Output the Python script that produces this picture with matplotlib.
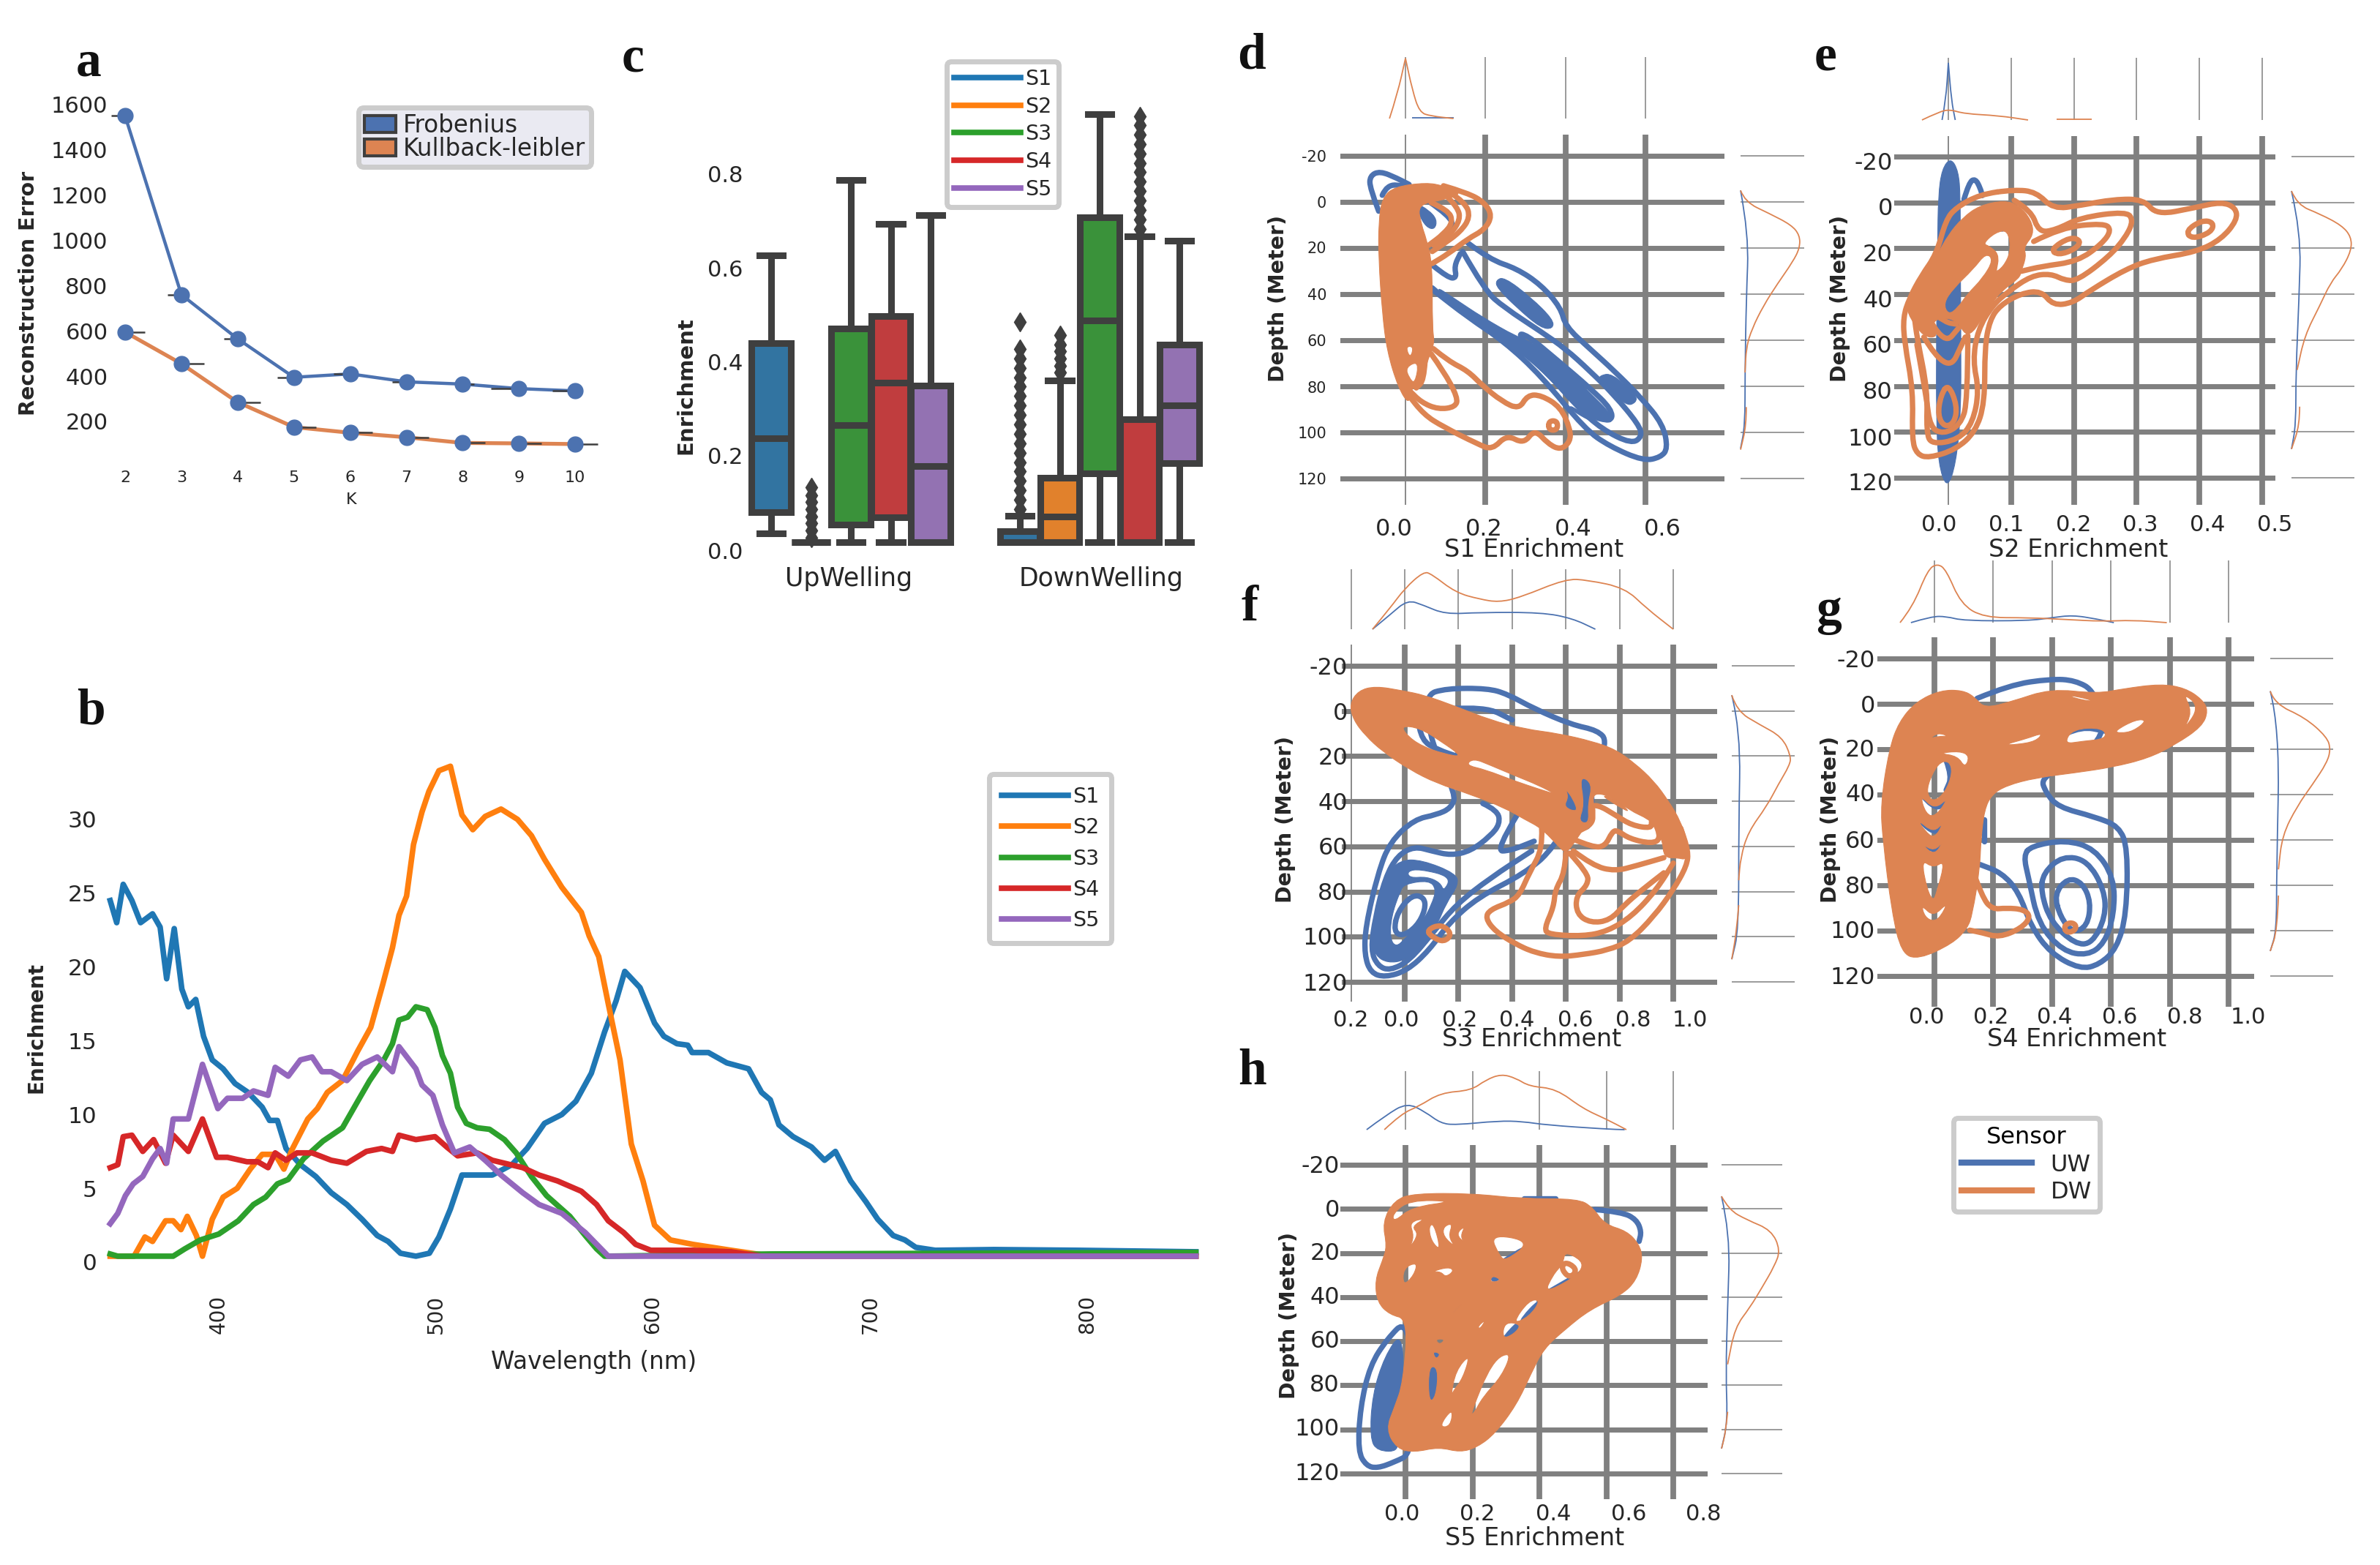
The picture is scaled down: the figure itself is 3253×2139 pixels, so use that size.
import numpy as np
import matplotlib
matplotlib.use("Agg")
import matplotlib.pyplot as plt
from matplotlib.path import Path
from matplotlib.patches import PathPatch, Patch
from matplotlib.lines import Line2D

W, H = 3253, 2139
NAN = float("nan")

UW = "#4c72b0"
DW = "#dd8452"
GRID = "#808080"
TAB = ["#1f77b4", "#ff7f0e", "#2ca02c", "#d62728", "#9467bd"]
BOX = ["#3274a1", "#e1812c", "#3a923a", "#c03d3e", "#9372b2"]
DARK = "#3f3f3f"

# ---------- panel a ----------
K = [2, 3, 4, 5, 6, 7, 8, 9, 10]
frobenius = [1550, 760, 565, 395, 410, 375, 365, 345, 335]
kullback = [595, 455, 285, 175, 150, 130, 105, 103, 100]
frob_err_left = [0.25, 0.25, 0.25, 0.3, 0.3, 0.25, 0.1, 0.5, 0.4]
frob_err_right = [0, 0, 0, 0, 0, 0, 0.2, 0, 0]
kull_err_right = [0.35, 0.4, 0.4, 0.4, 0.4, 0.4, 0.4, 0.4, 0.4]

# ---------- panel b ----------
s1_nm = [350, 353, 356, 360, 364, 369.5, 373, 376, 379.5, 383, 386, 389.4, 393, 397, 402, 407.5, 413.5, 420,
         423.4, 427, 431, 437.6, 444.7, 451.8, 459, 466, 473, 478, 483.7, 490.8, 497, 501.4, 506.7, 512, 517,
         526, 535, 542, 550, 558, 564.5, 571.6, 577.7, 583, 587, 594, 600.7, 605, 611, 616, 618, 625.5, 634,
         644, 650, 654, 658, 664.5, 673, 679, 684, 691, 698, 703.5, 710.6, 716, 721, 730, 757, 796, 850]
s1_val = [24.5, 23, 25.6, 24.5, 23, 23.6, 22.7, 19.2, 22.6, 18.5, 17.3, 17.8, 15.3, 13.7, 13.1, 12.1, 11.5, 10.5,
          9.6, 9.6, 7.7, 6.6, 5.8, 4.7, 3.9, 2.9, 1.8, 1.4, 0.6, 0.4, 0.6, 1.7, 3.6, 5.9, 5.9,
          5.9, 6.6, 7.7, 9.4, 10, 10.9, 12.8, 15.6, 17.7, 19.7, 18.6, 16.2, 15.3, 14.8, 14.7, 14.2, 14.2, 13.5,
          13.1, 11.5, 11, 9.3, 8.5, 7.8, 6.9, 7.5, 5.5, 4.1, 2.9, 1.8, 1.5, 1.0, 0.8, 0.85, 0.8, 0.7]
s2_nm = [350, 361, 366, 369.5, 375.5, 379, 382.6, 385.5, 389.7, 392.5, 397, 402, 408.5, 414.5, 420, 426, 430, 434,
         441, 445.4, 450, 457, 464, 470, 475.5, 480, 483, 486.5, 489.7, 493.6, 496.8, 501.4, 506.7, 512, 517,
         522.7, 530, 537.6, 544, 550, 558, 567, 570.6, 575, 579.4, 584.8, 590, 595.4, 600.7, 608, 618.4, 636,
         650, 850]
s2_val = [0.4, 0.4, 1.7, 1.4, 2.8, 2.8, 2.2, 3.1, 1.8, 0.4, 2.9, 4.4, 5, 6.3, 7.3, 7.3, 6.3, 7.7,
          9.7, 10.4, 11.5, 12.3, 14.3, 15.9, 18.8, 21.3, 23.5, 24.8, 28.3, 30.5, 31.9, 33.3, 33.6, 30.3, 29.3,
          30.2, 30.7, 30, 28.9, 27.3, 25.4, 23.7, 22.1, 20.7, 17.5, 13.7, 8, 5.5, 2.5, 1.5, 1.2, 0.8,
          0.5, 0.4]
s3_nm = [350, 353.5, 379, 384.4, 391.5, 400, 409, 416, 421.6, 427, 432, 439, 448, 457, 464, 469.5, 476, 480, 483,
         487, 490.8, 496, 499.6, 503, 506.7, 510, 514, 519, 524.7, 531.6, 537, 544, 551, 561.7, 568.8, 574, 577.7,
         654, 850]
s3_val = [0.55, 0.4, 0.4, 0.9, 1.5, 1.9, 2.8, 3.9, 4.4, 5.3, 5.6, 7, 8.2, 9.1, 10.9, 12.3, 13.7, 14.8, 16.4,
          16.6, 17.3, 17.1, 15.9, 14, 12.8, 10.5, 9.4, 9.1, 9, 8.3, 7.4, 5.8, 4.5, 3.1, 1.8, 0.9, 0.4,
          0.55, 0.66]
s4_nm = [350, 353.5, 356, 360, 365, 370, 375.5, 379, 386, 392.5, 399, 404, 413, 418, 422.7, 426, 431, 436, 443,
         451.8, 459, 468, 475, 480, 483, 490.8, 499.6, 505, 510, 519, 526, 540, 547.5, 556, 567, 574, 579.4,
         586.5, 592, 599, 618.4, 636, 650, 850]
s4_val = [6.4, 6.6, 8.5, 8.6, 7.5, 8.3, 6.7, 8.6, 7.5, 9.7, 7.1, 7.1, 6.8, 6.8, 6.4, 7.4, 6.9, 7.4, 7.4,
          6.9, 6.7, 7.5, 7.7, 7.5, 8.6, 8.3, 8.5, 7.8, 7.2, 7.4, 6.9, 6.4, 5.9, 5.5, 4.8, 3.9, 2.8,
          2, 1.2, 0.8, 0.8, 0.7, 0.4, 0.4]
s5_nm = [350, 353.5, 357, 360.6, 365, 369.5, 373, 376, 379, 386, 392.5, 399.6, 404, 411, 416, 422.7, 426, 432,
         437.6, 443, 447.5, 451.8, 459, 466, 473, 480, 483, 490.8, 493.6, 498.6, 503, 508.5, 515.6, 522.7, 530,
         540, 547.5, 558, 568.8, 579.4, 850]
s5_val = [2.6, 3.3, 4.5, 5.3, 5.8, 7, 7.7, 6.7, 9.7, 9.7, 13.4, 10.4, 11.1, 11.1, 11.6, 11.3, 13.2, 12.6,
          13.7, 13.9, 12.9, 12.9, 12.3, 13.4, 13.9, 12.9, 14.6, 13.1, 12, 11.3, 9.3, 7.4, 7.8, 6.9, 5.9,
          4.7, 3.9, 3.3, 2, 0.4, 0.4]

# ---------- panel c ----------
sensors = ["S1", "S2", "S3", "S4", "S5"]
groups = ["UpWelling", "DownWelling"]
up_lo = [0.018, 0.0, 0.0, 0.0, 0.0]
up_q1 = [0.063, 0.0, 0.038, 0.053, 0.0]
up_med = [0.22, 0.0, 0.248, 0.339, 0.162]
up_q3 = [0.423, 0.0, 0.453, 0.48, 0.333]
up_hi = [0.608, 0.0, 0.768, 0.675, 0.694]
down_lo = [0.0, 0.0, 0.0, 0.0, 0.0]
down_q1 = [0.0, 0.0, 0.146, 0.0, 0.167]
down_med = [0.0, 0.055, 0.47, 0.0, 0.291]
down_q3 = [0.024, 0.137, 0.69, 0.261, 0.419]
down_hi = [0.056, 0.343, 0.909, 0.649, 0.64]
up_fliers = [[], [0.01, 0.025, 0.04, 0.055, 0.07, 0.085, 0.1, 0.116], [], [], []]
down_fliers = [[0.07, 0.09, 0.11, 0.13, 0.15, 0.17, 0.19, 0.21, 0.23, 0.25, 0.27, 0.29, 0.31, 0.33, 0.35, 0.37,
                0.39, 0.41, 0.468],
               [0.36, 0.375, 0.39, 0.405, 0.42, 0.44], [],
               [0.665, 0.685, 0.705, 0.725, 0.745, 0.765, 0.785, 0.805, 0.825, 0.845, 0.865, 0.885, 0.903], []]

# ---------- joint panels: traced contours as (enrichment, depth) ----------
# closed outlines, open pieces that end under the solid part, and solid parts with their gaps
d_uw = [
    [(0.278, 57.4), (0.302, 57.4), (0.382, 69), (0.461, 80.7), (0.516, 90), (0.516, 95.5), (0.46, 92), (0.38, 78)],
]
d_uw_open = [
    [(-0.067, 4), (-0.089, -6), (-0.089, -11.3), (-0.064, -13.4), (-0.021, -10.3), (0.009, -7.6)],
    [(-0.058, -2.9), (-0.046, -7.6), (-0.003, -7)],
    [(0.156, 17.8), (0.211, 25), (0.278, 28.9), (0.339, 36), (0.388, 45.8), (0.4, 54), (0.461, 63.7), (0.522, 73.3),
     (0.589, 84.9), (0.644, 96.5), (0.656, 107), (0.638, 110.8), (0.595, 112.4), (0.51, 106), (0.449, 98.6),
     (0.339, 75.4), (0.247, 60.6), (0.156, 50), (0.07, 38.4)],
    [(0.143, 21.5), (0.198, 38.4), (0.247, 45.8), (0.339, 56.3), (0.4, 63.7), (0.461, 73.3), (0.522, 83.8),
     (0.583, 96.5), (0.592, 101.8), (0.565, 105), (0.491, 98.6), (0.43, 89), (0.351, 73.3), (0.278, 62.7),
     (0.192, 54.2), (0.095, 41.5), (0.067, 37.3)],
    [(0.06, 0), (0.11, 6), (0.12, 11), (0.1, 15), (0.07, 19)],
    [(0.07, 27.8), (0.107, 33), (0.128, 33), (0.122, 27.8), (0.137, 22.5)],
]
d_uw_solid = [
    ([(0.07, 36), (0.131, 47.9), (0.217, 56.3), (0.314, 69), (0.388, 81.7), (0.449, 93.3), (0.516, 96.5), (0.516, 92.3),
      (0.461, 82.8), (0.375, 68), (0.314, 60.6), (0.278, 58.5), (0.192, 50), (0.119, 41.5)],
     [[(0.412, 88), (0.479, 96), (0.461, 95), (0.412, 90)]]),
    ([(0.226, 34), (0.247, 32.6), (0.314, 41.5), (0.369, 51), (0.369, 55), (0.339, 54.8), (0.278, 45.8), (0.229, 37.3)], []),
    ([(0.485, 75.4), (0.516, 74.3), (0.577, 83.8), (0.577, 87), (0.552, 88.6), (0.485, 77.5)], []),
    ([(0.024, 0.3), (0.058, 3.5), (0.079, 7.7), (0.073, 12), (0.052, 10.9), (0.034, 5.6)], []),
]
d_dw = [
    [(0.358, 95), (0.38, 95), (0.38, 99), (0.358, 99)],
]
d_dw_open = [
    [(0.095, -7), (0.156, -3.9), (0.198, 0.3), (0.217, 6), (0.198, 12), (0.156, 16), (0.107, 22.5), (0.067, 26.7)],
    [(0.113, -3.9), (0.15, 0.3), (0.162, 6.7), (0.137, 13), (0.095, 18.3), (0.067, 21.5)],
    [(0.107, -1.8), (0.131, 2.4), (0.137, 7.7), (0.113, 14), (0.07, 18.8)],
    [(0.064, 0.3), (0.107, 3.5), (0.119, 8.8), (0.095, 14), (0.058, 18.8)],
    [(0.07, 63.7), (0.107, 69), (0.156, 73.3), (0.192, 79.6), (0.241, 86.5), (0.284, 90), (0.305, 83.8), (0.339, 83.8),
     (0.388, 89), (0.412, 98.6), (0.412, 104), (0.388, 107.6), (0.357, 105), (0.323, 98.6), (0.296, 105), (0.253, 101),
     (0.217, 107.6), (0.18, 105), (0.095, 97.6), (0.046, 92.3), (0.003, 82.8)],
    [(0.064, 65.9), (0.095, 73.3), (0.131, 84.9), (0.125, 89), (0.082, 90), (0.04, 87), (0.009, 81.7)],
    [(0.049, 69), (0.046, 77.5), (0.027, 80.7)],
]
d_dw_solid = [
    ([(-0.067, 8.8), (-0.058, -1.8), (-0.027, -6.6), (0.052, -8.4), (0.095, -7), (0.143, -3.9), (0.1, -1), (0.03, 1),
      (0.04, 10), (0.052, 16), (0.067, 26.7), (0.067, 55), (0.073, 61.6), (0.052, 70), (0.04, 79.6), (0.012, 81),
      (0.009, 88), (-0.018, 80.6), (-0.046, 64.8), (-0.058, 47.9), (-0.067, 24.6)],
     [[(0, 62.7), (0.021, 62.7), (0.012, 68)], [(0, 71.7), (0.034, 69), (0.024, 79), (0.009, 76.4)]]),
]

e_uw = []
e_uw_open = [
    [(0.025, -1.4), (0.033, -8.8), (0.043, -10.4), (0.051, -6.2), (0.054, -3)],
]
e_uw_solid = [
    ([(0.004, -19.5), (0.016, -13.6), (0.019, -3), (0.019, 20), (0.02, 60), (0.02, 92), (0.012, 114), (-0.002, 125),
      (-0.016, 114), (-0.019, 92.8), (-0.019, 61), (-0.017, 18.3), (-0.016, -3), (-0.01, -14.7)], []),
    ([(0.078, 8.7), (0.093, 7.7), (0.093, 11.9), (0.082, 13)], []),
]
e_dw = [
    [(0.105, -5.6), (0.14, -4.6), (0.167, 2.9), (0.21, 1.3), (0.264, -1.4), (0.311, -1.4), (0.332, 5.5), (0.392, 2.3),
     (0.435, -0.3), (0.458, 2.3), (0.46, 7.7), (0.435, 16), (0.396, 21.5), (0.326, 24.7), (0.283, 29), (0.225, 38.5),
     (0.198, 43.8), (0.167, 44.9), (0.148, 38.5), (0.116, 39.6), (0.082, 44.9), (0.066, 51.3), (0.058, 63), (0.058, 87.4),
     (0.043, 100), (0.012, 107.7), (-0.031, 111.4), (-0.05, 109.8), (-0.058, 103.4), (-0.056, 82), (-0.07, 60.9),
     (-0.072, 50), (-0.062, 41.7), (-0.043, 32), (-0.019, 22.6), (-0.004, 7.7), (0.012, 2.3), (0.05, -3.5)],
    [(0.163, 20.4), (0.194, 15), (0.212, 16.7), (0.202, 20.4), (0.175, 23)],
    [(0.378, 12.4), (0.404, 7.7), (0.423, 8.7), (0.419, 13), (0.388, 16)],
    [(0, 79), (0.014, 88.5), (0.01, 96), (-0.006, 98), (-0.017, 92.8), (-0.012, 84)],
]
e_dw_open = [
    [(0.105, -0.9), (0.132, 3.4), (0.144, 13), (0.171, 12), (0.21, 6.6), (0.283, 3.9), (0.295, 7.7), (0.283, 15),
     (0.256, 23.6), (0.206, 34), (0.186, 34), (0.163, 31), (0.132, 32), (0.097, 38.5), (0.07, 44.9), (0.047, 55.5),
     (0.039, 69), (0.049, 82), (0.039, 96), (0.016, 103.4), (-0.027, 105.5), (-0.035, 100), (-0.033, 82), (-0.05, 58.7),
     (-0.054, 50)],
    [(0.136, 17), (0.179, 10.9), (0.248, 9), (0.26, 12), (0.245, 18), (0.206, 25.7), (0.148, 27.9), (0.116, 30)],
    [(0.031, 58), (0.031, 87), (0.019, 97), (-0.008, 101), (-0.029, 98), (-0.035, 85), (-0.05, 62)],
    [(-0.039, 58.7), (-0.002, 75.7), (0.027, 58.7)],
    [(-0.027, 52.3), (-0.006, 62), (0.017, 54.5)],
    [(-0.02, 49), (-0.004, 52.3), (0.012, 53)],
    [(0.105, 12), (0.113, 23.6), (0.097, 30)],
    [(0.066, 21), (0.078, 22), (0.072, 31)],
]
e_dw_solid = [
    ([(-0.066, 45), (-0.047, 33), (-0.019, 23.6), (0, 14), (0.023, 6.6), (0.05, 1.3), (0.089, -0.9), (0.113, 1.3),
      (0.132, 7.7), (0.136, 14), (0.12, 19.4), (0.124, 23.6), (0.116, 30), (0.113, 33), (0.085, 38.5), (0.07, 43.8),
      (0.05, 52), (0.039, 56.6), (0.027, 57.7), (0.016, 52.3), (-0.004, 50), (-0.027, 51.8), (-0.016, 58.7),
      (-0.039, 58.7), (-0.062, 50)],
     [[(-0.008, 44), (0.008, 37.4), (0.04, 29), (0.06, 22), (0.072, 25), (0.055, 33), (0.03, 40), (0.015, 46), (0, 49)],
      [(0.055, 18), (0.075, 13), (0.095, 12), (0.1, 21), (0.088, 28), (0.072, 31), (0.078, 22), (0.065, 19)]]),
]

f_uw = [
    [(0.073, -7), (0.155, -10), (0.309, -10), (0.382, -7.5), (0.482, -1), (0.619, 6), (0.719, 8.6), (0.755, 13.5),
     (0.7, 31), (0.555, 61), (0.446, 72), (0.273, 82.5), (0.164, 94), (0.091, 106), (0.009, 115), (-0.073, 118),
     (-0.127, 116), (-0.15, 108), (-0.146, 95.5), (-0.1, 72), (-0.055, 58), (0.036, 48), (0.118, 46), (0.173, 43),
     (0.191, 37), (0.1, 15)],
    [(-0.027, 89), (0.027, 81.4), (0.073, 82.5), (0.077, 88), (0.045, 95.5), (-0.009, 99.8), (-0.041, 97.6)],
]
f_uw_open = [
    [(0.291, 41), (0.346, 44), (0.355, 50), (0.318, 55.5), (0.246, 62), (0.173, 64), (0.1, 62), (0.036, 60), (-0.027, 64),
     (-0.073, 74), (-0.109, 91), (-0.127, 106), (-0.1, 113), (-0.055, 115), (0.018, 110.6), (0.109, 97.6), (0.191, 85.8),
     (0.318, 74), (0.473, 62)],
    [(0.419, 46), (0.337, 62), (0.391, 62), (0.482, 57.7)],
    [(0.055, 7.5), (0.064, 13), (0.118, 17), (0.218, 21)],
    [(0.17, -1), (0.3, -2), (0.4, 4)],
]
f_uw_solid = [
    ([(-0.073, 73), (-0.018, 66), (0.064, 66), (0.191, 72), (0.2, 77), (0.155, 85), (0.118, 95.5), (0.064, 104), (0, 110.6),
      (-0.064, 111.6), (-0.109, 108.4), (-0.127, 101), (-0.1, 84.7)],
     [[(0.009, 71), (0.055, 70), (0.173, 73.4), (0.146, 80), (0.132, 76), (0.082, 73.4), (0.018, 74)],
      [(0, 76.6), (0.091, 75), (0.118, 79), (0.1, 85.8), (0.068, 93), (0, 101), (-0.032, 104.6), (-0.055, 101),
       (-0.05, 91), (-0.018, 80)]]),
    ([(0.58, 30), (0.7, 27), (0.71, 50), (0.66, 54), (0.6, 45)], []),
]
f_dw = [
    [(0.082, 97), (0.136, 94.4), (0.177, 98.7), (0.146, 102.5), (0.1, 100)],
]
f_dw_open = [
    [(0.7, 42), (0.719, 41.5), (0.783, 46), (0.846, 50.7), (0.919, 52), (0.919, 49)],
    [(0.641, 53.4), (0.7, 51), (0.7, 43.7)],
    [(0.632, 57), (0.7, 60.4), (0.746, 60), (0.773, 53.4), (0.792, 52.9), (0.837, 56.6), (0.919, 58.8), (0.955, 56.6),
     (0.928, 48)],
    [(0.628, 62), (0.7, 68.5), (0.783, 71), (0.864, 68.5), (0.965, 65)],
    [(0.614, 63), (0.682, 71.7), (0.682, 77), (0.637, 82), (0.641, 90), (0.692, 93.9), (0.764, 92.8), (0.819, 85.8),
     (0.883, 79.3), (0.965, 71.7)],
    [(0.6, 63), (0.596, 71.7), (0.56, 79.3), (0.555, 86.8), (0.519, 96.5), (0.537, 99), (0.664, 99.8), (0.755, 97.6),
     (0.846, 91), (0.937, 79.3), (1.0, 67.4)],
    [(0.51, 52), (0.514, 61), (0.464, 71.7), (0.428, 81.4), (0.391, 84.7), (0.318, 88), (0.3, 91.7), (0.337, 97.6),
     (0.409, 103), (0.482, 107), (0.573, 109), (0.664, 107.9), (0.755, 106), (0.837, 102), (0.928, 91), (1.0, 79.3),
     (1.051, 68.5), (1.056, 62), (1.028, 52)],
]
f_dw_solid = [
    ([(-0.205, -3), (-0.173, -9), (-0.109, -11), (-0.009, -9), (0.073, -7), (0.191, -2), (0.318, 4), (0.446, 8), (0.573, 10),
      (0.7, 13.5), (0.783, 17), (0.855, 23), (0.928, 31), (0.983, 40), (1.028, 49), (1.056, 59), (1.051, 66), (1.015, 65),
      (0.965, 65), (0.96, 57), (0.928, 51), (0.91, 48), (0.837, 44), (0.773, 38), (0.7, 36), (0.705, 43), (0.682, 50),
      (0.655, 54), (0.628, 59), (0.6, 63), (0.573, 60), (0.51, 52), (0.446, 48), (0.373, 43), (0.246, 37), (0.118, 32),
      (0.018, 26), (-0.082, 18), (-0.146, 11), (-0.191, 4)],
     [[(-0.014, 6.5), (0.055, 7.5), (0.136, 13.5), (0.218, 20.5), (0.146, 19), (0.064, 15.6), (0.009, 11)],
      [(0.255, 21), (0.318, 24), (0.409, 28.6), (0.5, 33), (0.564, 37), (0.51, 35), (0.409, 31), (0.3, 26), (0.227, 24)],
      [(0.596, 34), (0.628, 39), (0.646, 45), (0.591, 42.6), (0.61, 38)],
      [(0.65, 28.6), (0.7, 32), (0.682, 41.5), (0.687, 50), (0.646, 49), (0.669, 41.5)],
      [(0.728, 37), (0.783, 39), (0.842, 45), (0.8, 42.6)]]),
]

g_uw = [
    [(0.328, 62.7), (0.445, 60), (0.545, 63.8), (0.611, 76.7), (0.611, 92.8), (0.578, 105.7), (0.52, 111), (0.436, 109),
     (0.353, 97), (0.32, 76.7), (0.303, 67)],
    [(0.37, 74.5), (0.436, 67), (0.52, 69), (0.578, 82), (0.582, 93.9), (0.536, 105.7), (0.478, 106), (0.395, 96), (0.362, 83)],
    [(0.407, 84), (0.453, 76.7), (0.503, 78.8), (0.532, 87.4), (0.52, 98), (0.47, 101), (0.428, 93.9)],
]
g_uw_open = [
    [(0.145, -2.4), (0.254, -8.3), (0.395, -11), (0.478, -10.4), (0.545, -5.6), (0.586, 13), (0.478, 25), (0.362, 32.6),
     (0.378, 39), (0.42, 45.5), (0.545, 49.8), (0.628, 54), (0.657, 63.8), (0.653, 92.8), (0.62, 107.8), (0.561, 115),
     (0.495, 117), (0.395, 110), (0.328, 98), (0.287, 83), (0.229, 74.5), (0.154, 70.8)],
    [(0.17, 50.9), (0.17, 60.5)],
    [(-0.05, 39), (0, 47), (0.04, 43)],
    [(-0.058, 50), (-0.004, 58), (0.03, 53)],
    [(-0.045, 61), (0, 66), (0.03, 60)],
    [(0.04, 25), (0.06, 32), (0.04, 38)],
    [(0.45, 13), (0.5, 10), (0.58, 12)],
]
g_uw_solid = []
g_dw = [
    [(0.44, 98), (0.461, 96.3), (0.482, 97.4), (0.478, 100), (0.449, 101)],
]
g_dw_open = [
    [(0.133, 74.5), (0.162, 85), (0.195, 90.6), (0.245, 90), (0.303, 90.6), (0.328, 93.9), (0.295, 99), (0.22, 103),
     (0.162, 100.9), (0.12, 99.8)],
]
g_dw_solid = [
    ([(-0.183, 44), (-0.154, 20), (-0.121, 8), (-0.062, -1), (0.021, -6), (0.096, -6), (0.137, -3), (0.17, 2), (0.262, -1),
      (0.395, -6.7), (0.553, -4.5), (0.644, -6.7), (0.769, -8.8), (0.852, -7), (0.91, -2), (0.931, 3), (0.91, 10), (0.819, 18),
      (0.727, 24), (0.603, 28), (0.478, 30.4), (0.345, 32.6), (0.245, 36), (0.195, 40), (0.17, 46.6), (0.158, 59.5),
      (0.154, 73), (0.129, 92.8), (0.112, 99), (0.062, 105.7), (-0.054, 112.7), (-0.112, 110), (-0.145, 91.7), (-0.175, 60.5)],
     [[(0.611, 12), (0.686, 6.8), (0.723, 7.3), (0.677, 12), (0.632, 13)],
      [(0.44, 17.7), (0.47, 11), (0.574, 10.5), (0.586, 15.4), (0.503, 16.5)],
      [(0.237, 18), (0.312, 15.4), (0.37, 12.7), (0.345, 16.5), (0.279, 18)],
      [(0.453, -4), (0.528, -2), (0.536, -1), (0.478, -2.4)],
      [(-0.025, 36), (0.012, 26), (0.05, 25), (0.062, 30.4), (0.037, 39), (0, 43), (-0.021, 41)],
      [(-0.05, 40), (0, 46.6), (0.05, 41), (0.004, 49.8), (-0.029, 48.7)],
      [(-0.058, 50.9), (-0.004, 56.8), (0.033, 52), (0, 59.5), (-0.033, 56)],
      [(-0.045, 61.6), (0, 65), (0.033, 60), (0, 67)],
      [(-0.045, 68.6), (-0.004, 72.4), (0.037, 69), (0.008, 83), (-0.004, 87), (-0.025, 82)],
      [(-0.045, 88.5), (-0.004, 93.9), (0.046, 87.4), (0.021, 93.9), (-0.004, 96), (-0.033, 93.9)],
      [(-0.017, 15.4), (0.012, 12.7), (0.05, 14.3), (0.012, 14.3)],
      [(0.012, 21.8), (0.087, 20.8), (0.12, 23), (0.104, 28.3), (0.079, 23)],
      [(0.844, -5), (0.902, 1.4), (0.844, 12), (0.877, 3.5)]]),
]

h_uw = [
    [(0.004, 50), (-0.055, 59), (-0.106, 71), (-0.135, 90), (-0.142, 110), (-0.117, 116.5), (-0.084, 117.6), (-0.033, 114.8),
     (0.018, 111), (0.03, 80)],
]
h_uw_open = [
    [(0.354, -4.6), (0.449, -4.6)],
    [(0.566, 0.3), (0.646, 1.4), (0.69, 4.8), (0.705, 10.3), (0.698, 14.7)],
    [(0.296, 23.6), (0.362, 16.9), (0.42, 15.8), (0.449, 18)],
    [(0.413, 39), (0.551, 26.9)],
]
h_uw_solid = [
    ([(-0.011, 55.6), (-0.062, 66.7), (-0.099, 84.4), (-0.106, 104), (-0.084, 109.8), (-0.018, 110), (-0.033, 101),
      (-0.004, 79)], []),
    ([(0.07, 70), (0.1, 71), (0.093, 86), (0.067, 88)], []),
    ([(0.075, 62), (0.11, 63), (0.095, 70)], []),
    ([(0.28, 60), (0.34, 50), (0.35, 52), (0.3, 62)], []),
    ([(0.33, 52), (0.41, 39), (0.37, 52)], []),
    ([(0.135, 47), (0.2, 38), (0.15, 48)], []),
    ([(0.25, 29), (0.3, 30), (0.26, 34)], []),
]
h_dw = [
    [(0.469, 24.7), (0.491, 24.7), (0.513, 28), (0.491, 31.3), (0.469, 28)],
]
h_dw_open = []
h_dw_solid = [
    ([(-0.069, 6), (-0.033, -4), (0.026, -7), (0.2, -7), (0.347, -4.6), (0.515, -4.6), (0.559, -0.8), (0.595, 7), (0.661, 10),
      (0.698, 16), (0.709, 22.5), (0.69, 32.4), (0.646, 39), (0.551, 45.7), (0.478, 54.5), (0.413, 63.4), (0.376, 74.4),
      (0.332, 88.8), (0.267, 102), (0.215, 108), (0.164, 110.4), (0.099, 108), (0.026, 110.4), (-0.026, 108.7), (-0.058, 99.9),
      (-0.033, 90), (-0.007, 78.9), (0.007, 50), (-0.047, 48), (-0.084, 42.4), (-0.091, 32.4), (-0.069, 23.6), (-0.055, 17)],
     [[(0.252, 11.4), (0.376, 14.7), (0.3, 23.6), (0.281, 21.4)],
      [(0.478, 18.6), (0.551, 26.6), (0.413, 39), (0.44, 30), (0.47, 25)],
      [(-0.007, 26.9), (0.036, 24), (0.026, 30), (-0.007, 35)],
      [(-0.04, 2.5), (0.011, -4), (0.15, -3.5), (0.018, -0.8), (-0.033, 5.9)],
      [(0.011, 5.9), (0.062, 4.2), (0.018, 8), (0.04, 11.4), (0.011, 18), (0.026, 12.5)],
      [(0.069, 8), (0.085, 6.5), (0.106, 19.1), (0.077, 14.7)],
      [(0.113, 8), (0.142, 6.4), (0.128, 12.5), (0.15, 17.5), (0.113, 12.5)],
      [(0.15, 11.4), (0.179, 7.5), (0.164, 12.5), (0.179, 15.8)],
      [(0.077, 28.5), (0.128, 26.3), (0.146, 28), (0.12, 31), (0.106, 28.5)],
      [(0.131, 49), (0.194, 39), (0.142, 46.8)],
      [(0.135, 85.5), (0.15, 73.3), (0.194, 65.6), (0.172, 76.7), (0.142, 82.7)],
      [(0.194, 93), (0.259, 69), (0.318, 64.5), (0.289, 75.6), (0.23, 85.5), (0.204, 93)],
      [(0.099, 98.8), (0.142, 90), (0.135, 98.8)],
      [(0.289, 59), (0.296, 51.2), (0.347, 52.3), (0.325, 56.7)],
      [(0.318, 52.3), (0.369, 49), (0.405, 41.3), (0.369, 41.3)],
      [(0.069, 71), (0.099, 72.2), (0.091, 85.5), (0.069, 87.7)],
      [(0.088, 59), (0.12, 59), (0.102, 61.7)],
      [(0.08, 64.5), (0.106, 65.6), (0.091, 68.4)],
      [(0.259, 30), (0.289, 32.4), (0.252, 33.5)],
      [(0.215, 53.4), (0.241, 50), (0.223, 54.5)]]),
]

# marginal densities (value, share of margin height); NaN splits a curve
d_top_uw = [(0.017, 0.01), (0.12, 0.01)]
d_top_dw = [(-0.04, 0), (-0.02, 0.4), (0, 0.98), (0, 0.98), (0.017, 0.47), (0.035, 0.1), (0.064, 0.04), (0.12, 0)]
d_right_uw = [(-5, 0), (14, 0.13), (42, 0.09), (74, 0.07), (97, 0.07), (107, 0)]
d_right_dw = [(-5, 0), (0, 0.07), (5, 0.45), (10, 0.8), (14.5, 0.93), (20, 0.93), (26, 0.82), (35.5, 0.58), (45, 0.36),
              (55, 0.18), (63, 0.09), (74, 0.07), (NAN, NAN), (89, 0.09), (97, 0.09), (107.5, 0)]
e_top_uw = [(-0.01, 0), (-0.004, 0.31), (0, 0.92), (0, 0.92), (0.005, 0.31), (0.011, 0)]
e_top_dw = [(-0.042, 0), (-0.015, 0.13), (0.002, 0.17), (0.026, 0.1), (0.08, 0.07), (0.127, 0), (NAN, NAN),
            (0.173, 0.01), (0.229, 0.01)]
e_right_uw = [(-5, 0), (13, 0.15), (42, 0.12), (74, 0.07), (97, 0.07), (107.5, 0)]
e_right_dw = [(-5, 0), (1, 0.09), (5, 0.45), (10, 0.8), (15, 0.95), (21, 0.95), (29, 0.8), (35, 0.62), (45, 0.45),
              (58, 0.21), (73, 0.09), (NAN, NAN), (89, 0.13), (97, 0.13), (107.5, 0)]
f_top_uw = [(-0.12, 0), (-0.055, 0.24), (0.01, 0.49), (0.07, 0.4), (0.15, 0.25), (0.28, 0.28), (0.51, 0.28),
            (0.625, 0.18), (0.71, 0)]
f_top_dw = [(-0.12, 0), (-0.055, 0.35), (0, 0.68), (0.07, 0.96), (0.1, 0.92), (0.19, 0.61), (0.28, 0.5), (0.35, 0.45),
            (0.43, 0.53), (0.6, 0.84), (0.68, 0.82), (0.82, 0.69), (0.9, 0.35), (1.0, 0)]
f_right_uw = [(-7, 0), (8.6, 0.14), (51, 0.11), (97, 0.11), (110, 0)]
f_right_dw = [(-7, 0), (0, 0.08), (6, 0.44), (11.5, 0.8), (20, 0.94), (24, 0.92), (32.5, 0.74), (42, 0.56), (53.6, 0.26),
              (65, 0.14), (75, 0.11), (NAN, NAN), (86, 0.11), (97, 0.08), (110, 0)]
g_top_uw = [(-0.08, 0), (-0.01, 0.1), (0.04, 0.1), (0.1, 0.03), (0.32, 0.03), (0.4, 0.08), (0.47, 0.12), (0.55, 0.06),
            (0.61, 0)]
g_top_dw = [(-0.117, 0), (-0.074, 0.25), (-0.023, 0.85), (0.01, 0.95), (0.04, 0.85), (0.09, 0.3), (0.168, 0.08),
            (0.32, 0.08), (0.45, 0.05), (0.57, 0.02), (0.675, 0.04), (0.79, 0)]
g_right_uw = [(-5.6, 0), (10.4, 0.15), (75, 0.1), (100, 0.1), (109, 0)]
g_right_dw = [(-5.6, 0), (0, 0.07), (6, 0.55), (14.6, 0.9), (20, 0.96), (26, 0.9), (35.6, 0.67), (45, 0.43), (58, 0.19),
              (73, 0.13), (NAN, NAN), (84.5, 0.13), (100, 0.11), (109, 0)]
h_top_uw = [(-0.116, 0), (-0.058, 0.25), (0.005, 0.46), (0.06, 0.3), (0.105, 0.11), (0.15, 0.08), (0.277, 0.15),
            (0.35, 0.14), (0.42, 0.08), (0.6, 0.01), (0.655, 0)]
h_top_dw = [(-0.063, 0), (-0.013, 0.27), (0.04, 0.4), (0.105, 0.63), (0.196, 0.67), (0.24, 0.85), (0.286, 0.95),
            (0.33, 0.88), (0.37, 0.74), (0.45, 0.7), (0.53, 0.36), (0.6, 0.18), (0.66, 0)]
h_right_uw = [(-5.7, 0), (11, 0.14), (44.6, 0.1), (75, 0.07), (96.5, 0.1), (108.7, 0)]
h_right_dw = [(-5.7, 0), (0.4, 0.12), (5, 0.42), (9.6, 0.82), (18.7, 0.97), (26, 0.87), (35.5, 0.67), (44.6, 0.47),
              (53.8, 0.22), (70.5, 0.1), (NAN, NAN), (92, 0.1), (101, 0.07), (108.7, 0)]

depth_ticks = [-20, 0, 20, 40, 60, 80, 100, 120]
CONTOUR_LW = 5.3


def px_axes(fig, left, top, right, bottom):
    return fig.add_axes([left / W, 1 - bottom / H, (right - left) / W, (bottom - top) / H])


def smooth_path(pts, closed=True):
    # quadratic curves through segment midpoints, so traced outlines stay round
    pts = np.asarray(pts, float)
    n = len(pts)
    verts, codes = [], []
    if closed:
        verts.append((pts[-1] + pts[0]) / 2)
        codes.append(Path.MOVETO)
        for i in range(n):
            verts += [pts[i], (pts[i] + pts[(i + 1) % n]) / 2]
            codes += [Path.CURVE3, Path.CURVE3]
    else:
        verts.append(pts[0])
        codes.append(Path.MOVETO)
        for i in range(1, n - 1):
            verts += [pts[i], (pts[i] + pts[i + 1]) / 2]
            codes += [Path.CURVE3, Path.CURVE3]
        verts.append(pts[-1])
        codes.append(Path.LINETO)
    return np.array(verts), codes


def signed_area(pts):
    x, y = np.asarray(pts, float).T
    return 0.5 * np.sum(x * np.roll(y, -1) - np.roll(x, -1) * y)


def draw_solid(ax, outer, holes, color, z):
    # solid region where the contour lines pile up on each other
    verts, codes = smooth_path(outer)
    sign = signed_area(outer)
    verts = [verts]
    all_codes = list(codes)
    for hole in holes:
        hole = list(hole)
        if signed_area(hole) * sign > 0:
            hole = hole[::-1]
        v, c = smooth_path(hole)
        verts.append(v)
        all_codes += c
    ax.add_patch(PathPatch(Path(np.vstack(verts), all_codes), facecolor=color, edgecolor=color, lw=0.8, zorder=z))


def draw_lines(ax, lines, color, z, closed=True):
    for line in lines:
        v, c = smooth_path(line, closed)
        ax.add_patch(PathPatch(Path(v, c), facecolor="none", edgecolor=color, lw=CONTOUR_LW, zorder=z,
                               joinstyle="round", capstyle="round"))


def draw_margin(ax, series, color, swap=False):
    a = np.array(series, float)
    breaks = np.where(np.isnan(a[:, 0]))[0]
    for part in np.split(a, breaks):
        part = part[~np.isnan(part[:, 0])]
        if len(part) < 2:
            continue
        pts = part[:, ::-1] if swap else part
        v, c = smooth_path(pts, closed=False)
        ax.add_patch(PathPatch(Path(v, c), facecolor="none", edgecolor=color, lw=1.3, zorder=2, clip_on=False))


def joint_panel(fig, p, uw, uw_open, uw_solid, dw, dw_open, dw_solid, top_uw, top_dw, right_uw, right_dw):
    left, top, right, bottom = p["rect"]
    v0, px0, v1, px1 = p["xmap"]
    sx = (px1 - px0) / (v1 - v0)
    d0, py0, d1, py1 = p["ymap"]
    sy = (py1 - py0) / (d1 - d0)
    xlim = (v0 + (left - px0) / sx, v0 + (right - px0) / sx)
    ylim = (d0 + (bottom - py0) / sy, d0 + (top - py0) / sy)

    ax = px_axes(fig, left, top, right, bottom)
    ax.set_xlim(xlim)
    ax.set_ylim(ylim)
    for s in ax.spines.values():
        s.set_visible(False)
    for d in depth_ticks:
        ax.axhline(d, color=GRID, lw=5.0, zorder=1)
    for v in p["xgrid"]:
        ax.axvline(v, color=GRID, lw=p["thin"].get(v, 5.6), zorder=1)

    for outer, holes in uw_solid:
        draw_solid(ax, outer, holes, UW, 2)
    draw_lines(ax, uw, UW, 2)
    draw_lines(ax, uw_open, UW, 2, closed=False)
    for outer, holes in dw_solid:
        draw_solid(ax, outer, holes, DW, 3)
    draw_lines(ax, dw, DW, 3)
    draw_lines(ax, dw_open, DW, 3, closed=False)

    # the printed labels sit a little off their grid lines
    ax.set_xticks([v0 + (x - px0) / sx for x in p["xlab_px"]], p["xlabels"])
    ax.set_yticks([d0 + (y - py0) / sy for y in p["ylab_py"]], [str(d) for d in depth_ticks])
    xh = p["xfs"] * 100 / 72 * 0.73
    ax.tick_params(axis="x", length=0, labelsize=p["xfs"], pad=(p["xlab_y"] - xh / 2 - bottom) * 0.72,
                   labelcolor="#262626")
    ax.tick_params(axis="y", length=0, labelsize=p["yfs"], pad=(left - p["ylab_right"]) * 0.72,
                   labelcolor="#262626")
    ax.set_xlabel(p["xlabel"], fontsize=24, color="#262626", va="center")
    ax.xaxis.set_label_coords(p["xlabel_xy"][0] / W, 1 - p["xlabel_xy"][1] / H, transform=fig.transFigure)
    ax.set_ylabel("Depth (Meter)", fontsize=20.5, fontweight="bold", color="#262626", va="center")
    ax.yaxis.set_label_coords(p["ylabel_xy"][0] / W, 1 - p["ylabel_xy"][1] / H, transform=fig.transFigure)

    tl, tt, tb = p["top"]
    tx = px_axes(fig, left, tt, right, tb)
    tx.set_xlim(xlim)
    tx.set_ylim(0, 1)
    tx.axis("off")
    for v in p["top_grid"]:
        tx.axvline(v, color=GRID, lw=1.1, zorder=1)
    draw_margin(tx, top_uw, UW)
    draw_margin(tx, top_dw, DW)

    rl, rr = p["right"]
    rx = px_axes(fig, rl, top, rr, bottom)
    rx.set_xlim(0, 1)
    rx.set_ylim(ylim)
    rx.axis("off")
    for d in depth_ticks:
        rx.axhline(d, color=GRID, lw=1.1, zorder=1)
    draw_margin(rx, right_uw, UW, swap=True)
    draw_margin(rx, right_dw, DW, swap=True)
    return ax


def frame_legend(ax, handles, labels, x, y, fs, face="white", **kw):
    leg = ax.legend(handles, labels, loc="upper left", bbox_to_anchor=(x / W, 1 - y / H),
                    bbox_transform=ax.figure.transFigure, borderaxespad=0, fontsize=fs, facecolor=face,
                    edgecolor="#cccccc", framealpha=1, **kw)
    leg.get_frame().set_linewidth(5)
    leg.set_zorder(10)
    for t in leg.get_texts():
        t.set_color("#262626")
    return leg


fig = plt.figure(figsize=(W / 100, H / 100), dpi=100, facecolor="white")

# panel letters
for letter, x, y in [("a", 121, 87), ("c", 865, 81), ("b", 124, 973), ("d", 1711, 77), ("e", 2495, 79),
                     ("f", 1708, 831), ("g", 2499, 836), ("h", 1712, 1465)]:
    fig.text(x / W, 1 - y / H, letter, family="Liberation Serif", fontweight="bold", fontsize=50,
             ha="center", va="center", color="#111111")

# ---------- a ----------
ax_a = px_axes(fig, 135, 125, 830, 665)
ax_a.set_xlim(2 + (135 - 171) / 76.9, 2 + (830 - 171) / 76.9)
ax_a.set_ylim(200 + (576 - 665) / 0.3093, 200 + (576 - 125) / 0.3093)
for s in ax_a.spines.values():
    s.set_visible(False)
ax_a.plot(K, frobenius, color=UW, lw=3.2, zorder=2)
ax_a.plot(K, kullback, color=DW, lw=3.8, zorder=2)
ax_a.errorbar(K, frobenius, xerr=[frob_err_left, frob_err_right], fmt="none", ecolor=DARK, elinewidth=1.8, zorder=2)
ax_a.errorbar(K, kullback, xerr=[[0] * 9, kull_err_right], fmt="none", ecolor=DARK, elinewidth=1.8, zorder=2)
ax_a.plot(K, frobenius, "o", color=UW, ms=15, zorder=3)
ax_a.plot(K, kullback, "o", color=UW, ms=15, zorder=3)
ax_a.set_xticks(K)
ax_a.set_yticks(range(200, 1601, 200))
ax_a.tick_params(axis="x", length=0, labelsize=16, pad=-16, labelcolor="#262626")
ax_a.tick_params(axis="y", length=0, labelsize=22, pad=-9, labelcolor="#262626")
ax_a.set_xlabel("K", fontsize=16, color="#262626", va="center")
ax_a.xaxis.set_label_coords(480 / W, 1 - 683 / H, transform=fig.transFigure)
ax_a.set_ylabel("Reconstruction Error", fontsize=20.5, fontweight="bold", color="#262626", va="center")
ax_a.yaxis.set_label_coords(39 / W, 1 - 401 / H, transform=fig.transFigure)
frame_legend(ax_a,
             [Patch(facecolor=UW, edgecolor=DARK, lw=3), Patch(facecolor=DW, edgecolor=DARK, lw=3)],
             ["Frobenius", "Kullback-leibler"], 490, 147, 23.5, face="#eaeaf2",
             handlelength=1.3, handleheight=0.7, labelspacing=-0.05, handletextpad=0.3, borderpad=0.25)

# ---------- b ----------
ax_b = px_axes(fig, 150.6, 1040, 1634.5, 1760)
ax_b.set_xlim(350, 850)
ax_b.set_ylim((1725 - 1760) / 20.17, (1725 - 1040) / 20.17)
for s in ax_b.spines.values():
    s.set_visible(False)
for nm, val, col, name in zip([s1_nm, s2_nm, s3_nm, s4_nm, s5_nm], [s1_val, s2_val, s3_val, s4_val, s5_val],
                              TAB, sensors):
    ax_b.plot(nm, val, color=col, lw=5.5, label=name, solid_joinstyle="round", clip_on=False)
ax_b.set_xticks([400, 500, 600, 700, 800])
ax_b.set_yticks([0, 5, 10, 15, 20, 25, 30])
ax_b.tick_params(axis="x", length=0, labelsize=20, pad=7, labelrotation=90, labelcolor="#262626")
ax_b.tick_params(axis="y", length=0, labelsize=22.5, pad=13, labelcolor="#262626")
ax_b.set_xlabel("Wavelength (nm)", fontsize=23.5, color="#262626", va="center")
ax_b.xaxis.set_label_coords(812 / W, 1 - 1862 / H, transform=fig.transFigure)
ax_b.set_ylabel("Enrichment", fontsize=20, fontweight="bold", color="#262626", va="center")
ax_b.yaxis.set_label_coords(50 / W, 1 - 1404 / H, transform=fig.transFigure)
frame_legend(ax_b, [Line2D([], [], color=c, lw=5.5) for c in TAB], sensors, 1352, 1058, 20.5,
             handlelength=3.2, labelspacing=0.5, handletextpad=0.2, borderpad=0.6)

# ---------- c ----------
ax_c = px_axes(fig, 1010, 130, 1660, 770)
hue_step = 54.5 / 340
ax_c.set_xlim((1010 - 1163) / 340, (1660 - 1163) / 340)
ax_c.set_ylim((741 - 770) / 644, (741 - 130) / 644)
for s in ax_c.spines.values():
    s.set_visible(False)
stats_sets = [(up_lo, up_q1, up_med, up_q3, up_hi, up_fliers),
              (down_lo, down_q1, down_med, down_q3, down_hi, down_fliers)]
for g, (lo, q1, med, q3, hi, fl) in enumerate(stats_sets):
    for i in range(5):
        stat = dict(whislo=lo[i], q1=q1[i], med=med[i], q3=q3[i], whishi=hi[i], fliers=fl[i])
        pos = g + (i - 2) * hue_step
        ax_c.bxp([stat], positions=[pos], widths=[hue_step * 0.98], patch_artist=True, manage_ticks=False,
                 boxprops=dict(facecolor=BOX[i], edgecolor=DARK, lw=6.5),
                 medianprops=dict(color=DARK, lw=6.5),
                 whiskerprops=dict(color=DARK, lw=6.5),
                 capprops=dict(color=DARK, lw=6.5),
                 capwidths=[hue_step * 0.6],
                 flierprops=dict(marker="d", markerfacecolor=DARK, markeredgecolor=DARK, markersize=13))
ax_c.set_xticks([(1160 - 1163) / 340, (1505 - 1163) / 340], groups)
ax_c.set_yticks([(741 - py) / 644 for py in [752, 622, 494, 366, 237]], ["0.0", "0.2", "0.4", "0.6", "0.8"])
ax_c.tick_params(axis="x", length=0, labelsize=25, pad=3, labelcolor="#262626")
ax_c.tick_params(axis="y", length=0, labelsize=22, pad=-4, labelcolor="#262626")
ax_c.set_ylabel("Enrichment", fontsize=21, fontweight="bold", color="#262626", va="center")
ax_c.yaxis.set_label_coords(937 / W, 1 - 527 / H, transform=fig.transFigure)
frame_legend(ax_c, [Line2D([], [], color=c, lw=5.5) for c in TAB], sensors, 1294, 84, 20.5,
             handlelength=3.2, labelspacing=0.34, handletextpad=0.2, borderpad=0.35)

# ---------- joint panels ----------
panel_d = dict(rect=(1832, 184, 2357, 690), xmap=(0, 1921, 0.6, 2249), ymap=(-20, 213, 120, 654),
               xgrid=[0, 0.2, 0.4, 0.6], thin={0: 1.3}, top=(1832, 78, 162), top_grid=[0, 0.2, 0.4, 0.6],
               right=(2379, 2466), xlabels=["0.0", "0.2", "0.4", "0.6"], xlab_px=[1905, 2028, 2150, 2272], xlab_y=720,
               ylab_py=[213, 276, 338, 402, 465, 529, 591, 654], ylab_right=1813, xfs=23, yfs=15,
               xlabel="S1 Enrichment", xlabel_xy=(2097, 751), ylabel_xy=(1747, 408))
panel_e = dict(rect=(2589, 186, 3110, 690), xmap=(0, 2663, 0.5, 3092), ymap=(-20, 214, 120, 653),
               xgrid=[0, 0.1, 0.2, 0.3, 0.4, 0.5], thin={0: 1.3}, top=(2589, 79, 164),
               top_grid=[0, 0.1, 0.2, 0.3, 0.4, 0.5], right=(3132, 3218),
               xlabels=["0.0", "0.1", "0.2", "0.3", "0.4", "0.5"], xlab_px=[2650, 2742, 2834, 2925, 3017, 3109], xlab_y=714,
               ylab_py=[220, 282, 345, 408, 470, 533, 597, 658], ylab_right=2587, xfs=22, yfs=23,
               xlabel="S2 Enrichment", xlabel_xy=(2841, 751), ylabel_xy=(2515, 408))
panel_f = dict(rect=(1834, 881, 2347, 1369), xmap=(0, 1920, 1.0, 2287), ymap=(-20, 910, 120, 1342),
               xgrid=[-0.2, 0, 0.2, 0.4, 0.6, 0.8, 1.0], thin={-0.2: 1.3}, top=(1834, 778, 860),
               top_grid=[-0.2, 0, 0.2, 0.4, 0.6, 0.8, 1.0], right=(2367, 2453),
               xlabels=["0.2", "0.0", "0.2", "0.4", "0.6", "0.8", "1.0"],
               xlab_px=[1846, 1915, 1995, 2073, 2153, 2232, 2310], xlab_y=1391,
               ylab_py=[910, 972, 1033, 1095, 1156, 1218, 1279, 1342], ylab_right=1842, xfs=22, yfs=23,
               xlabel="S3 Enrichment", xlabel_xy=(2094, 1421), ylabel_xy=(1757, 1120))
panel_g = dict(rect=(2566, 871, 3081, 1376), xmap=(0, 2644, 1.0, 3046), ymap=(-20, 900, 120, 1334),
               xgrid=[0, 0.2, 0.4, 0.6, 0.8, 1.0], thin={}, top=(2566, 766, 851),
               top_grid=[-0.2, 0, 0.2, 0.4, 0.6, 0.8, 1.0], right=(3103, 3189),
               xlabels=["0.0", "0.2", "0.4", "0.6", "0.8", "1.0"], xlab_px=[2633, 2721, 2808, 2897, 2986, 3073], xlab_y=1387,
               ylab_py=[900, 962, 1022, 1083, 1147, 1209, 1270, 1333], ylab_right=2563, xfs=22, yfs=23,
               xlabel="S4 Enrichment", xlabel_xy=(2839, 1421), ylabel_xy=(2502, 1120))
panel_h = dict(rect=(1832, 1565, 2334, 2049), xmap=(0, 1921, 0.8, 2287), ymap=(-20, 1592, 120, 2014),
               xgrid=[0, 0.2, 0.4, 0.6, 0.8], thin={}, top=(1832, 1464, 1544),
               top_grid=[-0.2, 0, 0.2, 0.4, 0.6, 0.8], right=(2353, 2436),
               xlabels=["0.0", "0.2", "0.4", "0.6", "0.8"], xlab_px=[1916, 2019, 2123, 2226, 2328], xlab_y=2066,
               ylab_py=[1591, 1651, 1710, 1770, 1830, 1890, 1950, 2011], ylab_right=1831, xfs=22, yfs=23,
               xlabel="S5 Enrichment", xlabel_xy=(2098, 2103), ylabel_xy=(1762, 1798))

joint_panel(fig, panel_d, d_uw, d_uw_open, d_uw_solid, d_dw, d_dw_open, d_dw_solid,
            d_top_uw, d_top_dw, d_right_uw, d_right_dw)
joint_panel(fig, panel_e, e_uw, e_uw_open, e_uw_solid, e_dw, e_dw_open, e_dw_solid,
            e_top_uw, e_top_dw, e_right_uw, e_right_dw)
joint_panel(fig, panel_f, f_uw, f_uw_open, f_uw_solid, f_dw, f_dw_open, f_dw_solid,
            f_top_uw, f_top_dw, f_right_uw, f_right_dw)
joint_panel(fig, panel_g, g_uw, g_uw_open, g_uw_solid, g_dw, g_dw_open, g_dw_solid,
            g_top_uw, g_top_dw, g_right_uw, g_right_dw)
ax_h = joint_panel(fig, panel_h, h_uw, h_uw_open, h_uw_solid, h_dw, h_dw_open, h_dw_solid,
                   h_top_uw, h_top_dw, h_right_uw, h_right_dw)

frame_legend(ax_h, [Line2D([], [], color=UW, lw=6), Line2D([], [], color=DW, lw=6)], ["UW", "DW"], 2670, 1528, 23,
             title="Sensor", title_fontsize=23, handlelength=3.0, labelspacing=0.2, handletextpad=0.8, borderpad=0.35)

fig.savefig("out.png", dpi=100, facecolor="white")
